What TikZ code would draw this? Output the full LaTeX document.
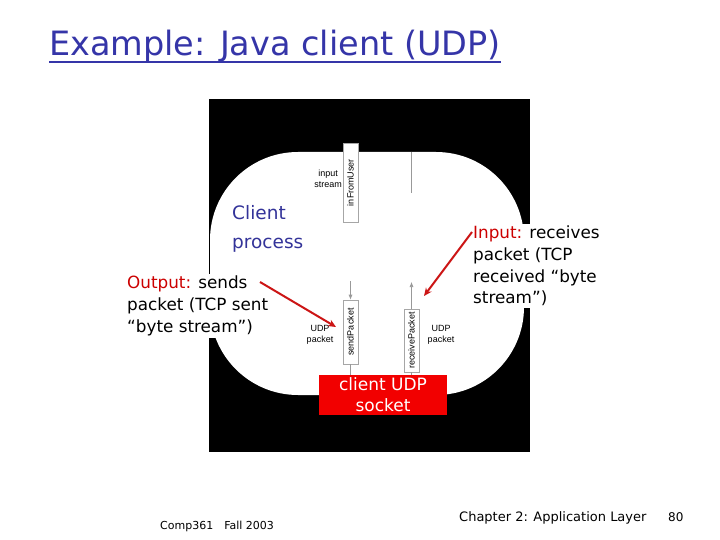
\documentclass[tikz,border=0pt]{standalone}
\usepackage{fontspec}
\setmainfont{DejaVu Sans}
\newfontfamily\arialf{Liberation Sans}
\usetikzlibrary{arrows.meta}
\definecolor{titleblue}{HTML}{3535A8}
\definecolor{procblue}{HTML}{333399}
\definecolor{labred}{HTML}{CC0000}
\definecolor{arrred}{HTML}{CC1515}
\definecolor{sockred}{HTML}{F20000}
\tikzset{
  pbox/.style={draw=gray!70, fill=white, line width=0.6pt, inner sep=0pt, minimum width=15pt, font=\arialf\fontsize{9}{10}\selectfont},
  small/.style={font=\arialf\fontsize{9}{11.5}\selectfont, inner sep=0pt, align=center},
  thin line/.style={draw=gray!80, line width=0.6pt},
  redarrow/.style={draw=arrred, line width=2pt, -{Stealth[length=8pt,width=7pt]}},
  body/.style={font=\fontsize{16.8}{21.8}\selectfont, fill=white, inner sep=2pt, align=left, anchor=north west}
}
\begin{document}
\begin{tikzpicture}[x=1pt,y=-1pt]
\useasboundingbox (0,0) rectangle (720,540);
\fill[white] (0,0) rectangle (720,540);
% diagram background
\fill[black] (209,99) rectangle (530,452);
\fill[white, rounded corners=88pt] (210,152) rectangle (524,395);
% title
\node[anchor=base west, inner sep=0pt, text=titleblue, font=\fontsize{33.5}{36}\selectfont] (title) at (49,56) {Example: Java client (UDP)};
\draw[titleblue, line width=2.2pt] ([yshift=-6pt]title.base west) -- ([yshift=-6pt]title.base east);
% boxes
\node[pbox, minimum height=79pt] (infu) at (350.5,182.5) {\rotatebox{90}{inFromUser}};
\node[pbox, minimum height=64pt] (sendp) at (350.5,332) {\rotatebox{90}{sendPacket}};
\node[pbox, minimum height=63pt] (recvp) at (411.5,340.5) {\rotatebox{90}{receivePacket}};
\node[fill=sockred, minimum width=128pt, minimum height=40pt, inner sep=0pt, text=white, align=center, font=\fontsize{17}{21}\selectfont] (sock) at (383,395) {client UDP\\socket};
% small labels
\node[small, anchor=east] (instream) at (342,179) {input\\stream};
\node[small] (udpl) at (320,335) {UDP\\packet};
\node[small] (udpr) at (441,335) {UDP\\packet};
% connectors inside process
\coordinate (outtop) at (411.5,152);
\coordinate (outbot) at (411.5,193);
\draw[thin line] (outtop) -- (outbot);
\coordinate (sendin) at (350.5,281);
\coordinate (recvout) at (411.5,282);
\draw[thin line, -{Latex[length=5pt,width=4pt]}] (sendin) -- (sendp.north);
\draw[thin line, -{Latex[length=5pt,width=4pt]}] (recvp.north) -- (recvout);
\draw[thin line] (sendp.south) -- (sendp.south |- sock.north);
\draw[thin line] (recvp.south) -- (recvp.south |- sock.north);
% client process text
\node[body, text=procblue, font=\fontsize{18.5}{29}\selectfont] (proc) at (230,203) {Client\\process};
% annotations
\node[body] (outtxt) at (125,274) {\textcolor{labred}{Output:} sends\\packet (TCP sent\\``byte stream'')};
\node[body] (intxt) at (471,223.5) {\textcolor{labred}{Input:} receives\\packet (TCP\\received ``byte\\stream'')};
\coordinate (outstart) at (260,282);
\coordinate (outend) at (336,327);
\coordinate (instart) at (472,232);
\coordinate (inend) at (424,296);
\draw[redarrow] (outstart) -- (outend);
\draw[redarrow] (instart) -- (inend);
% footer
\node[anchor=base west, inner sep=0pt, font=\fontsize{11}{12}\selectfont] (foot1) at (160,529) {Comp361\quad Fall 2003};
\node[anchor=base west, inner sep=0pt, font=\fontsize{13}{15}\selectfont] (foot2) at (459,521) {Chapter 2: Application Layer};
\node[anchor=base west, inner sep=0pt, font=\fontsize{12}{14}\selectfont] (foot3) at (668,521) {80};
\end{tikzpicture}
\end{document}
